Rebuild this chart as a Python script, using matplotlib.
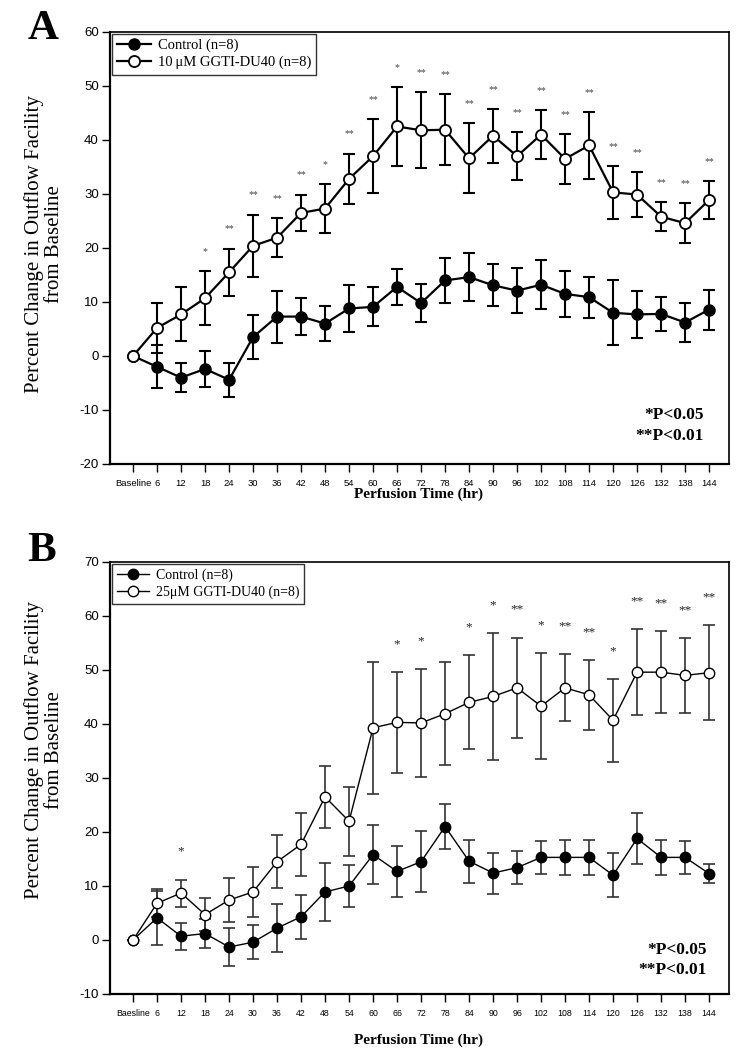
import numpy as np
import matplotlib
matplotlib.use("Agg")
import matplotlib.pyplot as plt
from matplotlib.lines import Line2D

plt.rcParams["axes.unicode_minus"] = False

# ---------------- data ----------------
A_labels = ["Baseline", "6", "12", "18", "24", "30", "36", "42", "48", "54", "60", "66", "72",
            "78", "84", "90", "96", "102", "108", "114", "120", "126", "132", "138", "144"]
B_labels = ["Baesline", "6", "12", "18", "24", "30", "36", "42", "48", "54", "60", "66", "72",
            "78", "84", "90", "96", "102", "108", "114", "120", "126", "132", "138", "144"]

A_ctrl = [0, -2.0, -4.0, -2.4, -4.4, 3.5, 7.3, 7.3, 6.0, 8.8, 9.1, 12.8, 9.8, 14.0, 14.6,
          13.1, 12.1, 13.2, 11.5, 10.9, 8.0, 7.7, 7.8, 6.2, 8.6]
A_ctrl_err = [0, 4.0, 2.7, 3.3, 3.1, 4.1, 4.8, 3.5, 3.3, 4.3, 3.6, 3.4, 3.5, 4.2, 4.5,
              3.9, 4.2, 4.5, 4.2, 3.8, 6.0, 4.4, 3.2, 3.6, 3.7]
A_trt = [0, 5.2, 7.7, 10.7, 15.5, 20.4, 21.9, 26.5, 27.3, 32.8, 37.0, 42.5, 41.8, 41.9, 36.6,
         40.8, 37.0, 41.0, 36.5, 39.0, 30.3, 29.9, 25.8, 24.6, 28.9]
A_trt_err = [0, 4.7, 5.0, 5.0, 4.4, 5.8, 3.6, 3.4, 4.5, 4.7, 6.9, 7.3, 7.0, 6.6, 6.5,
             5.0, 4.4, 4.6, 4.6, 6.2, 4.9, 4.2, 2.7, 3.7, 3.5]
A_sig = ["", "", "", "*", "**", "**", "**", "**", "*", "**", "**", "*", "**", "**", "**",
         "**", "**", "**", "**", "**", "**", "**", "**", "**", "**"]

B_ctrl = [0, 4.1, 0.7, 1.2, -1.3, -0.4, 2.2, 4.3, 8.9, 10.0, 15.8, 12.7, 14.5, 21.0, 14.6,
          12.4, 13.4, 15.3, 15.3, 15.3, 12.0, 18.8, 15.3, 15.3, 12.3]
B_ctrl_err = [0, 5.0, 2.5, 2.7, 3.6, 3.1, 4.5, 4.1, 5.3, 3.8, 5.5, 4.7, 5.6, 4.2, 4.0,
              3.8, 3.1, 3.0, 3.3, 3.3, 4.1, 4.8, 3.2, 3.1, 1.8]
B_trt = [0, 6.8, 8.7, 4.7, 7.4, 8.9, 14.5, 17.7, 26.5, 22.0, 39.3, 40.3, 40.2, 41.9, 44.0,
         45.1, 46.7, 43.3, 46.7, 45.4, 40.7, 49.6, 49.6, 49.0, 49.5]
B_trt_err = [0, 2.6, 2.5, 3.1, 4.0, 4.6, 4.9, 5.9, 5.7, 6.4, 12.2, 9.3, 10.0, 9.5, 8.7,
             11.7, 9.3, 9.8, 6.2, 6.5, 7.7, 8.0, 7.6, 6.9, 8.8]
B_sig = ["", "", "*", "", "", "", "", "", "", "", "", "*", "*", "", "*", "*", "**", "*",
         "**", "**", "*", "**", "**", "**", "**"]

A_legend = ["Control (n=8)", "10\u2009\u03bcM GGTI-DU40 (n=8)"]
B_legend = ["Control (n=8)", "25\u03bcM GGTI-DU40 (n=8)"]
ylabel = "Percent Change in Outflow Facility\nfrom Baseline"
xlabel = "Perfusion Time (hr)"

SERIF = ["Liberation Serif", "DejaVu Serif"]
SANS = ["Liberation Sans", "DejaVu Sans"]

W, H = 741, 1056
fig = plt.figure(figsize=(W / 100, H / 100), dpi=100)


def px_axes(l, t, r, b):
    return fig.add_axes([l / W, 1 - b / H, (r - l) / W, (b - t) / H])


def panel(ax, labels, ctrl, ctrl_err, trt, trt_err, sig, ylim, yticks, leg, p):
    x = np.arange(len(labels))
    ax.errorbar(x, ctrl, yerr=ctrl_err, fmt="none", ecolor=p["ecol"], elinewidth=p["elw"],
                capsize=p["cap"], capthick=p["elw"], zorder=2)
    ax.errorbar(x, trt, yerr=trt_err, fmt="none", ecolor=p["ecol"], elinewidth=p["elw"],
                capsize=p["cap"], capthick=p["elw"], zorder=2)
    ax.plot(x, ctrl, "-o", color="black", lw=p["lw"], ms=p["ms"], mfc="black",
            mec="black", zorder=3)
    ax.plot(x, trt, "-o", color="black", lw=p["lw"], ms=p["ms"], mfc="white",
            mec="black", mew=p["mew"], zorder=4)
    for xi, yi, ei, s in zip(x, trt, trt_err, sig):
        if s:
            ax.annotate(s, (xi, yi + ei), xytext=(0, p["soff"]), textcoords="offset points",
                        ha="center", va="center", fontsize=p["sfs"], color=p["scol"],
                        family=SERIF)
    ax.set_xlim(-0.96, 24.83)
    ax.set_ylim(*ylim)
    ax.set_yticks(yticks)
    ax.set_xticks(x)
    ax.set_xticklabels(labels, family=SANS, fontsize=p["xfs"])
    ax.tick_params(axis="y", direction="out", length=6, width=1, labelsize=9.5, pad=2)
    ax.tick_params(axis="x", direction="out", length=6, width=1, pad=5)
    for t in ax.get_yticklabels():
        t.set_family(SANS)
    for s in ["left", "bottom"]:
        ax.spines[s].set_linewidth(1.6)
    for s in ["top", "right"]:
        ax.spines[s].set_linewidth(1.2)
    handles = [
        Line2D([], [], color="black", lw=p["lw"], marker="o", ms=p["ms"], mfc="black", mec="black"),
        Line2D([], [], color="black", lw=p["lw"], marker="o", ms=p["ms"], mfc="white",
               mec="black", mew=p["mew"]),
    ]
    lg = ax.legend(handles, leg, loc="upper left", bbox_to_anchor=(0.003, 0.996),
                   borderaxespad=0, frameon=True, fancybox=False, framealpha=1,
                   edgecolor="#333333", handlelength=2.3, handletextpad=0.5,
                   borderpad=0.35, labelspacing=0.25,
                   prop={"family": SERIF, "size": p["lfs"]})
    lg.get_frame().set_linewidth(1.0)


pA = dict(ecol="black", elw=1.5, cap=4.5, lw=1.6, ms=8, mew=1.3, soff=14, sfs=7,
          scol="#444444", xfs=6.8, lfs=10.5)
pB = dict(ecol="#333333", elw=1.2, cap=4.5, lw=1.0, ms=7.5, mew=1.0, soff=20, sfs=9.5,
          scol="#222222", xfs=6.3, lfs=10)

axA = px_axes(110, 32, 729, 464)
panel(axA, A_labels, A_ctrl, A_ctrl_err, A_trt, A_trt_err, A_sig, (-20, 60),
      np.arange(-20, 61, 10), A_legend, pA)
axB = px_axes(110, 562, 729, 994)
panel(axB, B_labels, B_ctrl, B_ctrl_err, B_trt, B_trt_err, B_sig, (-10, 70),
      np.arange(-10, 71, 10), B_legend, pB)

# y labels, x labels, panel letters, p-value notes
for yc in (244, 750):
    fig.text(44 / W, 1 - yc / H, ylabel, rotation=90, ha="center", va="center",
             family=SERIF, fontsize=15, linespacing=1.05, multialignment="center")
for yc in (494, 1040):
    fig.text(418 / W, 1 - yc / H, xlabel, ha="center", va="center", family=SERIF,
             fontsize=11, fontweight="bold")
fig.text(43 / W, 1 - 29 / H, "A", ha="center", va="center", family=SERIF, fontsize=31,
         fontweight="bold")
fig.text(42 / W, 1 - 551 / H, "B", ha="center", va="center", family=SERIF, fontsize=31,
         fontweight="bold")
for (r, y1, y2) in ((704, 415, 436), (707, 950, 970)):
    fig.text(r / W, 1 - y1 / H, "*P<0.05", ha="right", va="center", family=SERIF,
             fontsize=12.5, fontweight="bold")
    fig.text(r / W, 1 - y2 / H, "**P<0.01", ha="right", va="center", family=SERIF,
             fontsize=12.5, fontweight="bold")

fig.savefig("out.png", dpi=100)
